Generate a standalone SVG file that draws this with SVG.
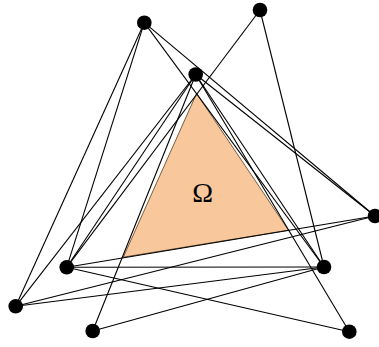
<svg xmlns="http://www.w3.org/2000/svg" width="379" height="347" viewBox="0 0 379 347">
<style>
.e{stroke:#000;stroke-width:1.1;fill:none}
.n{fill:#000}
.lbl{font-family:"Liberation Serif","Times New Roman",serif;font-size:28px;fill:#000}
</style>
<rect width="379" height="347" fill="#fff"/>
<g id="region-omega">
<polygon points="196.6,93.5 123.3,257.2 288.5,230.2" fill="#f8c79b" stroke="#5a3a1a" stroke-width="0.8"/>
<text class="lbl" x="202.7" y="201.5" text-anchor="middle">Ω</text>
</g>
<g id="connectors">
<line class="e" x1="144.3" y1="22.7" x2="66.7" y2="267.3"/>
<line class="e" x1="144.3" y1="22.7" x2="15.7" y2="306.3"/>
<line class="e" x1="144.3" y1="22.7" x2="324" y2="267"/>
<line class="e" x1="144.3" y1="22.7" x2="375" y2="216"/>
<line class="e" x1="260" y1="10" x2="66.7" y2="267.3"/>
<line class="e" x1="260" y1="10" x2="324" y2="267"/>
<line class="e" x1="195.7" y1="74.5" x2="92.7" y2="331"/>
<line class="e" x1="195.7" y1="74.5" x2="66.7" y2="267.3"/>
<line class="e" x1="195.7" y1="74.5" x2="15.7" y2="306.3"/>
<line class="e" x1="195.7" y1="74.5" x2="324" y2="267"/>
<line class="e" x1="195.7" y1="74.5" x2="349.3" y2="331.7"/>
<line class="e" x1="195.7" y1="74.5" x2="375" y2="216"/>
<line class="e" x1="375" y1="216" x2="66.7" y2="267.3"/>
<line class="e" x1="375" y1="216" x2="15.7" y2="306.3"/>
<line class="e" x1="66.7" y1="267.3" x2="324" y2="267" stroke-width="1.6"/>
<line class="e" x1="66.7" y1="267.3" x2="349.3" y2="331.7"/>
<line class="e" x1="15.7" y1="306.3" x2="324" y2="267"/>
<line class="e" x1="92.7" y1="331" x2="324" y2="267"/>
</g>
<g id="node-A"><circle class="n" cx="144.3" cy="22.7" r="7.3"/></g>
<g id="node-B"><circle class="n" cx="260" cy="10" r="7.3"/></g>
<g id="node-C"><circle class="n" cx="195.7" cy="74.5" r="7.3"/></g>
<g id="node-D"><circle class="n" cx="375" cy="216" r="7.3"/></g>
<g id="node-E"><circle class="n" cx="66.7" cy="267.3" r="7.3"/></g>
<g id="node-F"><circle class="n" cx="324" cy="267" r="7.3"/></g>
<g id="node-G"><circle class="n" cx="15.7" cy="306.3" r="7.3"/></g>
<g id="node-H"><circle class="n" cx="92.7" cy="331" r="7.3"/></g>
<g id="node-I"><circle class="n" cx="349.3" cy="331.7" r="7.3"/></g>
</svg>
